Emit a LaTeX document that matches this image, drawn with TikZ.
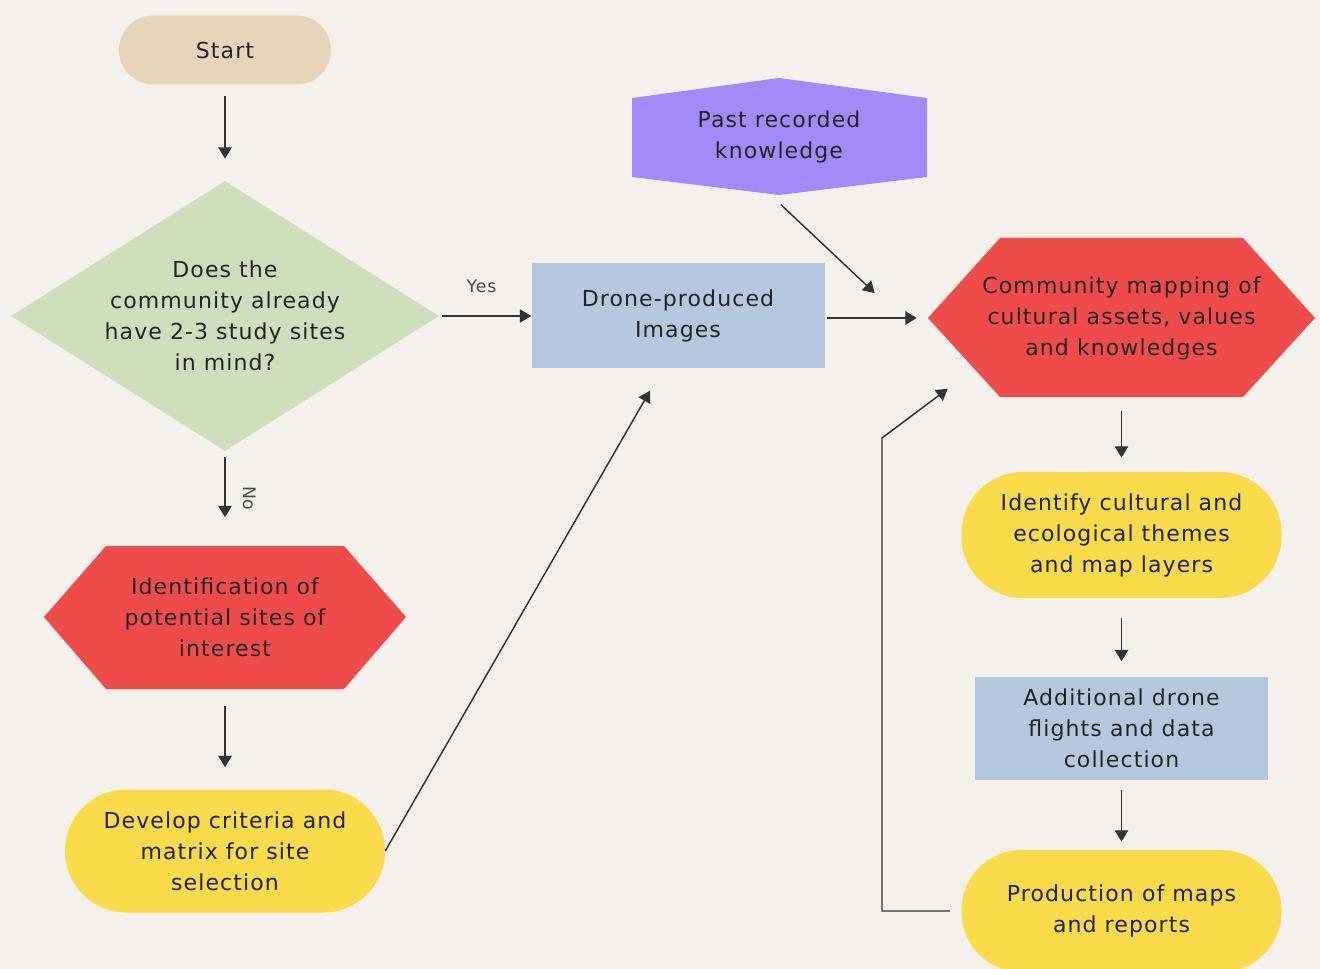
\documentclass[tikz,border=0pt]{standalone}
\usepackage{fontspec}
\setmainfont{DejaVu Sans}[LetterSpace=5]
\usetikzlibrary{shapes.geometric,arrows.meta,calc}
\definecolor{bg}{HTML}{F4F1EC}
\definecolor{cstart}{HTML}{E6D5B8}
\definecolor{cgreen}{HTML}{CFDFBC}
\definecolor{cred}{HTML}{F04B4B}
\definecolor{cyellow}{HTML}{FADB4A}
\definecolor{cblue}{HTML}{B5C8DF}
\definecolor{cpurple}{HTML}{A28BF9}
\definecolor{ctext}{HTML}{222222}
\tikzset{
  txt/.style={align=center,text=ctext,font=\fontsize{16.5}{23.25}\selectfont,inner sep=0pt},
  arr/.style={draw=black!80,line width=1.1pt,-{Triangle[length=8.5pt,width=10pt]}},
  lbl/.style={text=black!70,font=\fontsize{13}{15}\selectfont,inner sep=0pt},
}
\begin{document}
\begin{tikzpicture}[x=0.75pt,y=-0.75pt]
\useasboundingbox (0,0) rectangle (1320,969);
\fill[bg] (0,0) rectangle (1320,969);
% shapes
\fill[cpurple] (632,98) -- (779,78) -- (927,98) -- (927,177) -- (779,195) -- (632,177) -- cycle;
\fill[cred] (928,318) -- (1000,238) -- (1243,238) -- (1315,318) -- (1243,397) -- (1000,397) -- cycle;
\fill[cred] (44,617) -- (106,546) -- (344,546) -- (406,617) -- (344,689) -- (106,689) -- cycle;
% nodes
\node[txt,fill=cstart,rounded corners=25.8pt,minimum width=159pt,minimum height=51.75pt] (start) at (225,50) {Start};
\node[txt,diamond,fill=cgreen,aspect=1.585,minimum width=321pt,minimum height=202.5pt] (dia) at (225,316) {Does the\\community already\\have 2-3 study sites\\in mind?};
\node[txt,fill=cblue,minimum width=219.75pt,minimum height=78.75pt] (drone) at (678,316) {Drone-produced\\Images};
\node[txt,minimum width=221.25pt,minimum height=87.75pt] (past) at (779,137) {Past recorded\\knowledge};
\node[txt,minimum width=290.25pt,minimum height=119.25pt] (comm) at (1121.5,318) {Community mapping of\\cultural assets, values\\and knowledges};
\node[txt,fill=cyellow,rounded corners=46pt,minimum width=240pt,minimum height=94.5pt] (ident) at (1121.5,535) {Identify cultural and\\ecological themes\\and map layers};
\node[txt,fill=cblue,minimum width=219.75pt,minimum height=77.25pt] (addl) at (1121.5,728) {Additional drone\\flights and data\\collection};
\node[txt,fill=cyellow,rounded corners=45pt,minimum width=240pt,minimum height=91.5pt] (prod) at (1121.5,911) {Production of maps\\and reports};
\node[txt,minimum width=271.5pt,minimum height=107.25pt] (idsites) at (225,617) {Identification of\\potential sites of\\interest};
\node[txt,fill=cyellow,rounded corners=46pt,minimum width=240pt,minimum height=92.25pt] (dev) at (225,851) {Develop criteria and\\matrix for site\\selection};
% connectors
\draw[arr,shorten <=8.25pt,shorten >=16.5pt] (start.south) -- (dia.north);
\draw[arr,shorten <=2.25pt] (dia.east) -- node[lbl,above=17pt,pos=0.46] (yes) {Yes} (drone.west);
\draw[arr,shorten <=4.5pt,shorten >=21pt] (dia.south) -- node[lbl,right=13pt,rotate=-90,anchor=south] (no) {No} (idsites.north);
\draw[arr,shorten <=12.75pt,shorten >=16.5pt] (idsites.south) -- (dev.north);
\draw[arr] (dev.east) -- ($(drone.south)+(-28,22)$);
\draw[arr] ($(drone.east)+(2,2)$) -- ($(comm.west)+(-11,0)$);
\draw[arr] ($(past.south)+(2,9)$) -- ($(comm.west)+(-53,-25)$);
\draw[arr,shorten <=9.75pt,shorten >=10.5pt] (comm.south) -- (ident.north);
\draw[arr,shorten <=15pt,shorten >=11.25pt] (ident.south) -- (addl.north);
\draw[arr,shorten <=7.5pt,shorten >=6pt] (addl.south) -- (prod.north);
\coordinate (bend) at (882,438);
\draw[arr] ($(prod.west)+(-11,0)$) -| (bend) -- ($(comm.south west)+(20,-9)$);
\end{tikzpicture}
\end{document}
